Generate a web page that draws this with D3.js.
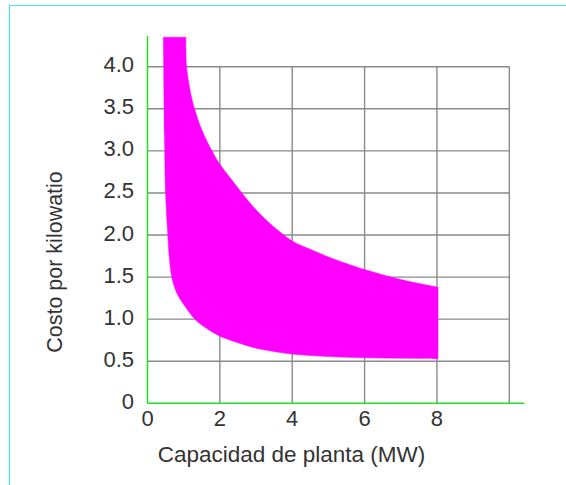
<!DOCTYPE html>
<html>
<head>
<meta charset="utf-8">
<script src="https://cdn.jsdelivr.net/npm/d3@7"></script>
<style>
  html, body { margin: 0; padding: 0; background: #fff; }
  svg text { font-family: "Liberation Sans", Arial, sans-serif; fill: #333; }
</style>
</head>
<body>
<div id="graph"></div>
<script>
// band limits (capacity MW, cost per kW)
// upper edge runs from the top right corner to x=8, lower edge back to the top left corner
var upperX = [1.06, 1.08, 1.22, 1.30, 1.50, 1.78, 2.00, 2.30, 2.61, 3.02, 3.48, 4.00, 4.50, 5.00, 6.00, 7.00, 8.03]
var upperY = [4.35, 4.00, 3.63, 3.50, 3.25, 3.00, 2.84, 2.67, 2.50, 2.29, 2.10, 1.93, 1.83, 1.74, 1.59, 1.47, 1.38]
var lowerX = [8.03, 7.00, 6.00, 5.00, 4.00, 3.50, 3.00, 2.50, 1.99, 1.60, 1.31, 1.04, 0.81, 0.67, 0.60, 0.555, 0.50, 0.47, 0.44]
var lowerY = [0.53, 0.535, 0.54, 0.555, 0.585, 0.615, 0.655, 0.72, 0.80, 0.90, 1.00, 1.15, 1.31, 1.50, 1.75, 2.05, 2.50, 3.20, 4.35]

var xTicks = [0, 2, 4, 6, 8]
var xGrid = [2, 4, 6, 8, 10]
var yTicks = [0, 0.5, 1.0, 1.5, 2.0, 2.5, 3.0, 3.5, 4.0]
var yTickLabels = ["0", "0.5", "1.0", "1.5", "2.0", "2.5", "3.0", "3.5", "4.0"]

var W = 566, H = 485

var svg = d3.select("#graph").append("svg")
            .attr("width", W)
            .attr("height", H)

// frame
svg.append("path")
   .attr("d", "M9.5," + H + "V5.5H" + W)
   .attr("fill", "none")
   .attr("stroke", "#44e6e6")
   .attr("stroke-width", 1.2)

var x = d3.scaleLinear().domain([0, 10]).range([147.5, 509.3]),
    y = d3.scaleLinear().domain([0, 4]).range([403.3, 66.7])

// grid
svg.append("g").selectAll("line")
   .data(yTicks.slice(1))
   .enter().append("line")
   .attr("x1", x(0)).attr("x2", x(10))
   .attr("y1", function(d) { return y(d) })
   .attr("y2", function(d) { return y(d) })
   .attr("stroke", "#8a8a8a")
   .attr("stroke-width", 1.4)

svg.append("g").selectAll("line")
   .data(xGrid)
   .enter().append("line")
   .attr("x1", function(d) { return x(d) })
   .attr("x2", function(d) { return x(d) })
   .attr("y1", y(0)).attr("y2", y(4))
   .attr("stroke", "#8a8a8a")
   .attr("stroke-width", 1.4)

// band
var upper = upperX.map(function(v, i) { return [x(v), y(upperY[i])] })
var lower = lowerX.map(function(v, i) { return [x(v), y(lowerY[i])] })
var curve = d3.line().curve(d3.curveCatmullRom.alpha(0.5))
svg.append("path")
   .attr("d", curve(upper) + "L" + curve(lower).slice(1) + "Z")
   .attr("fill", "#ff00ff")
   .attr("stroke", "#ff00ff")
   .attr("stroke-width", 0.5)

// axes
svg.append("line")
   .attr("x1", x(0)).attr("x2", 524.5)
   .attr("y1", y(0)).attr("y2", y(0))
   .attr("stroke", "#22e022").attr("stroke-width", 1.5)
svg.append("line")
   .attr("x1", x(0)).attr("x2", x(0))
   .attr("y1", y(0)).attr("y2", 36)
   .attr("stroke", "#22e022").attr("stroke-width", 1.5)

// tick labels
svg.append("g").selectAll("text")
   .data(xTicks)
   .enter().append("text")
   .attr("x", function(d) { return x(d) })
   .attr("y", 426)
   .attr("text-anchor", "middle")
   .style("font-size", "22px")
   .text(function(d) { return d })

svg.append("g").selectAll("text")
   .data(yTicks)
   .enter().append("text")
   .attr("x", 134)
   .attr("y", function(d) { return y(d) + 5.5 })
   .attr("text-anchor", "end")
   .style("font-size", "22px")
   .text(function(d, i) { return yTickLabels[i] })

// axis titles
svg.append("text")
   .attr("x", 291.5).attr("y", 462)
   .attr("text-anchor", "middle")
   .style("font-size", "22.5px")
   .text("Capacidad de planta (MW)")

svg.append("text")
   .attr("transform", "translate(62,262) rotate(-90)")
   .attr("text-anchor", "middle")
   .style("font-size", "21.5px")
   .text("Costo por kilowatio")
</script>
</body>
</html>
